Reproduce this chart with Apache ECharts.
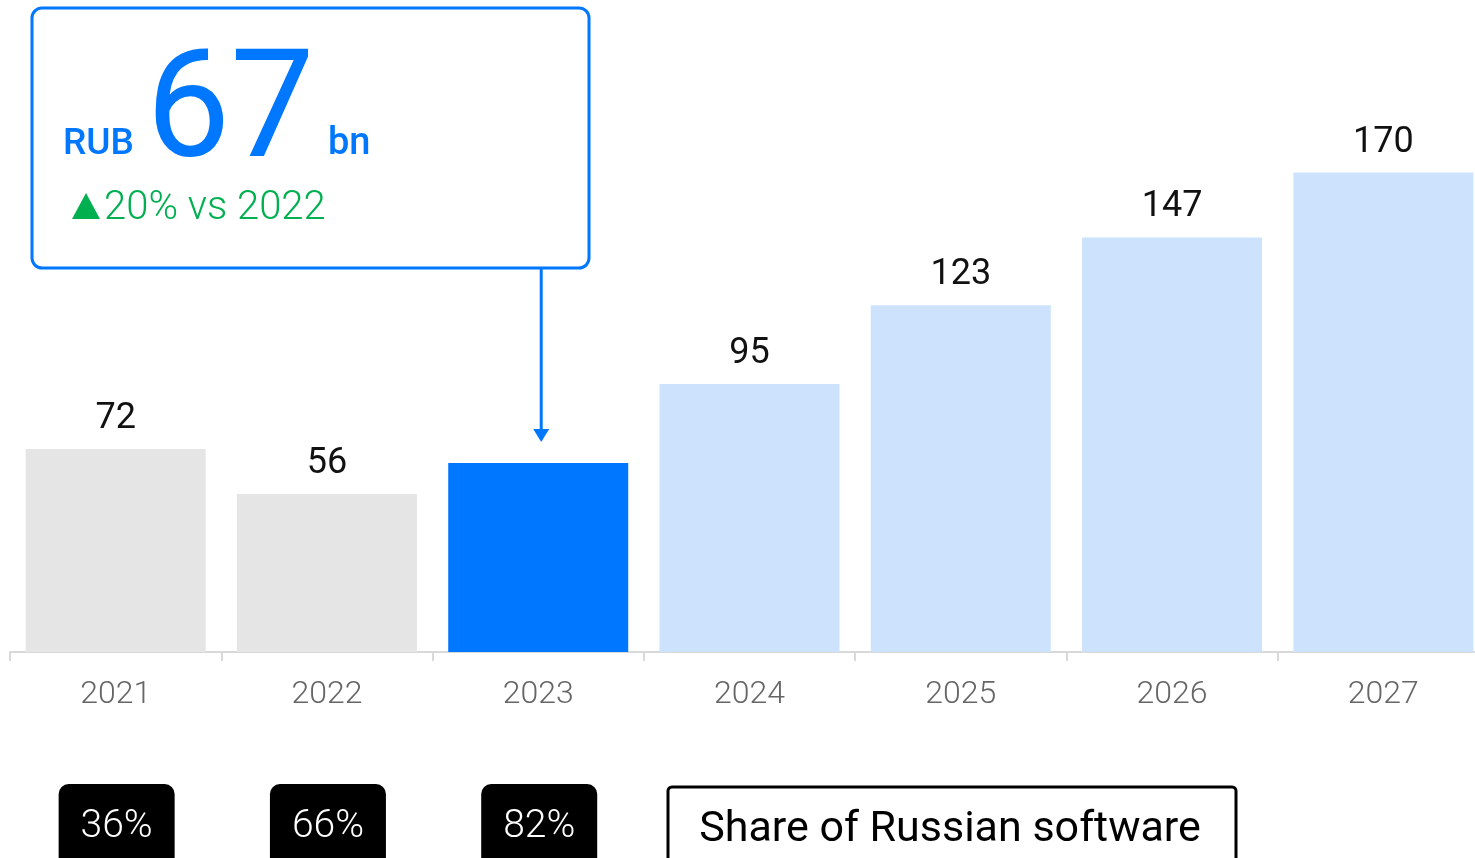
<!DOCTYPE html>
<html>
<head>
<meta charset="utf-8">
<script src="https://cdn.jsdelivr.net/npm/echarts@6/dist/echarts.min.js"></script>
<style>
html,body{margin:0;padding:0;background:#fff;}
#c{width:1475px;height:858px;}
</style>
</head>
<body>
<div id="c"></div>
<script>
// ---- data ----
const years = ['2021', '2022', '2023', '2024', '2025', '2026', '2027'];
const values = [72, 56, 67, 95, 123, 147, 170];
const shareYears = ['2021', '2022', '2023'];
const shareLabels = ['36%', '66%', '82%'];
const highlightYear = '2023';
const calloutUnit = 'RUB';
const calloutValue = '67';
const calloutSuffix = 'bn';
const calloutChange = '20% vs 2022';
const shareTitle = 'Share of Russian software';

// ---- styles ----
const FONT = 'Roboto, "Noto Sans", sans-serif';
const BLUE = '#0077ff';
const GREY = '#e5e5e5';
const LIGHT = '#cde3fd';
const GREEN = '#00b050';
const hi = years.indexOf(highlightYear);

const chart = echarts.init(document.getElementById('c'), null, {renderer: 'canvas'});

chart.setOption({
  animation: false,
  grid: {left: 10, right: -14, top: 88, bottom: 206, containLabel: false, outerBoundsMode: 'none'},
  xAxis: {
    type: 'category',
    data: years,
    axisLine: {lineStyle: {color: '#d9d9d9', width: 2}},
    axisTick: {show: true, length: 9, lineStyle: {color: '#d9d9d9', width: 2}},
    axisLabel: {color: '#666', fontSize: 32, fontFamily: FONT, fontWeight: 300, margin: 27}
  },
  yAxis: {
    type: 'value', min: 0, max: 200, show: false, splitLine: {show: false}
  },
  series: [{
    type: 'bar',
    barWidth: 180,
    data: values.map((v, i) => ({
      value: v,
      itemStyle: {color: i < hi ? GREY : (i === hi ? BLUE : LIGHT)},
      label: {show: i !== hi}
    })),
    label: {
      show: true, position: 'top', distance: 12,
      color: '#111', fontSize: 36, fontFamily: FONT, fontWeight: 400
    }
  }]
});

function px(year, v) {
  return chart.convertToPixel({gridIndex: 0}, [year, v]);
}

const graphics = [];
// callout box
const arrowX = px(highlightYear, 0)[0] + 3;
const barTopY = px(highlightYear, values[hi])[1];
graphics.push({
  type: 'rect', shape: {x: 32, y: 8, width: 557, height: 260, r: 10},
  style: {fill: '#fff', stroke: BLUE, lineWidth: 3}, z: 10
});
graphics.push({
  type: 'text', x: 63, y: 163, z: 11,
  style: {text: calloutUnit, fill: BLUE, font: '500 37px ' + FONT, textVerticalAlign: 'bottom'}
});
graphics.push({
  type: 'text', x: 146, y: 193, z: 11,
  style: {text: calloutValue, fill: BLUE, font: '400 150px ' + FONT, textVerticalAlign: 'bottom'}
});
graphics.push({
  type: 'text', x: 328, y: 163, z: 11,
  style: {text: calloutSuffix, fill: BLUE, font: '500 38px ' + FONT, textVerticalAlign: 'bottom'}
});
graphics.push({
  type: 'polygon', z: 11,
  shape: {points: [[72, 219], [100, 219], [86, 193]]},
  style: {fill: GREEN}
});
graphics.push({
  type: 'text', x: 104, y: 209, z: 11,
  style: {text: calloutChange, fill: GREEN, font: '300 40px ' + FONT, textVerticalAlign: 'middle'}
});
// arrow
graphics.push({
  type: 'line', z: 11,
  shape: {x1: arrowX, y1: 268, x2: arrowX, y2: barTopY - 30},
  style: {stroke: BLUE, lineWidth: 3}
});
graphics.push({
  type: 'polygon', z: 11,
  shape: {points: [[arrowX - 8, barTopY - 34], [arrowX + 8, barTopY - 34], [arrowX, barTopY - 21]]},
  style: {fill: BLUE}
});
// share badges
shareYears.forEach((y, i) => {
  const cx = px(y, 0)[0] + 1;
  graphics.push({
    type: 'rect', shape: {x: cx - 58, y: 784, width: 116, height: 90, r: 10},
    style: {fill: '#000'}
  });
  graphics.push({
    type: 'text', x: cx, y: 827,
    style: {text: shareLabels[i], fill: '#fff', font: '300 39px ' + FONT, textAlign: 'center', textVerticalAlign: 'middle'}
  });
});
// share title box
graphics.push({
  type: 'rect', shape: {x: 668, y: 787, width: 568, height: 90, r: 4},
  style: {fill: '#fff', stroke: '#000', lineWidth: 3}
});
graphics.push({
  type: 'text', x: 950, y: 830,
  style: {text: shareTitle, fill: '#000', font: '400 43px ' + FONT, textAlign: 'center', textVerticalAlign: 'middle'}
});

chart.setOption({graphic: {elements: graphics}});
</script>
</body>
</html>
